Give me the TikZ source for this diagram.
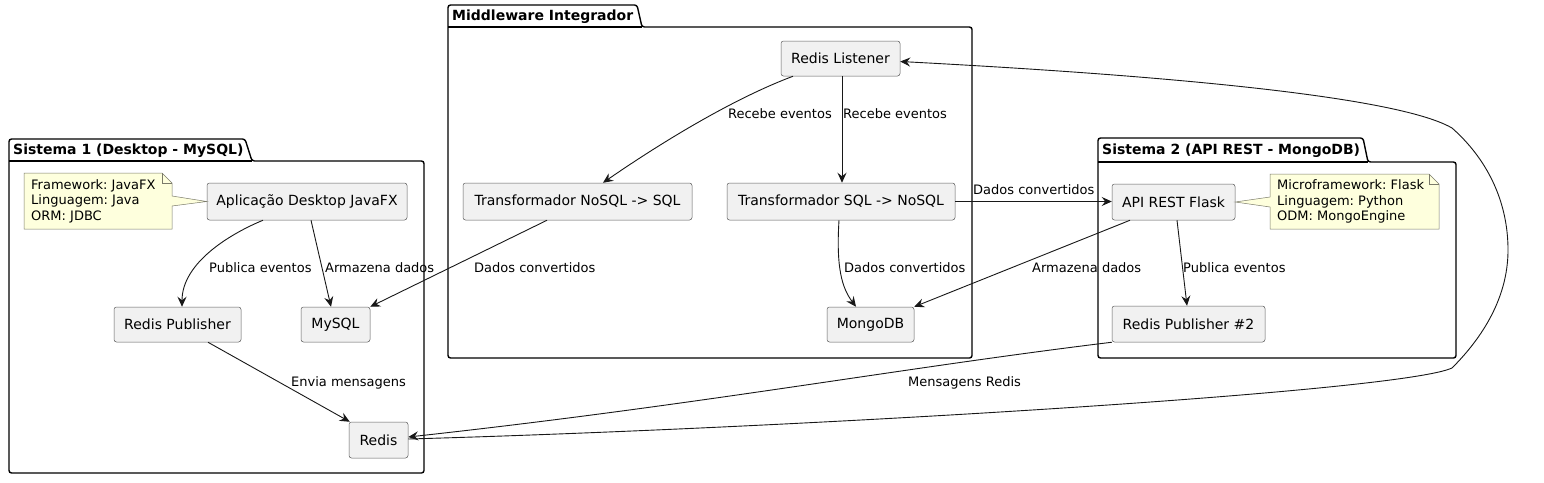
\documentclass[tikz,border=0pt]{standalone}
\usepackage{fontspec}
\setmainfont{DejaVu Sans}
\frenchspacing
\usetikzlibrary{arrows.meta,calc}
\definecolor{nodefill}{HTML}{F1F1F1}
\definecolor{nodeline}{HTML}{5E5E5E}
\definecolor{notefill}{HTML}{FEFFDD}
\definecolor{notedge}{HTML}{7A7A6A}
\definecolor{ink}{HTML}{181818}
\begin{document}
\begin{tikzpicture}[x=1pt,y=-1pt,
  box/.style={draw=nodeline, fill=nodefill, rounded corners=2.5pt, line width=0.5pt,
    inner sep=0pt, font=\fontsize{14}{16}\selectfont, text=black},
  lbl/.style={font=\fontsize{13}{15}\selectfont, inner sep=0pt, text=black},
  notetxt/.style={font=\fontsize{13}{15.5}\selectfont, inner sep=0pt, align=left, anchor=west, text=black},
  noteshape/.style={draw=notedge, fill=notefill, line width=0.5pt},
  conn/.style={draw=ink, line width=0.9pt, -{Stealth[length=10pt,width=9pt,inset=3.5pt]}},
  pkg/.style={draw=black, line width=1.4pt, rounded corners=2.5pt},
  pkgtitle/.style={font=\bfseries\fontsize{14}{16}\selectfont, inner sep=0pt, anchor=base west, text=black}]
\useasboundingbox (0,0) rectangle (1544,482);
\fill[white] (0,0) rectangle (1544,482);

% ---------- packages ----------
\draw[pkg] (9,139) -- (245,139) -- (252,161) -- (424,161) -- (424,473) -- (9,473) -- cycle;
\draw[pkg, rounded corners=0pt] (9,161) -- (252,161);
\node[pkgtitle] (p1t) at (13,154) {Sistema 1 (Desktop - MySQL)};

\draw[pkg] (448,5) -- (637,5) -- (642,27) -- (972,27) -- (972,358) -- (448,358) -- cycle;
\draw[pkg, rounded corners=0pt] (448,27) -- (642,27);
\node[pkgtitle] (p2t) at (452,20) {Middleware Integrador};

\draw[pkg] (1098,138) -- (1363,138) -- (1368,162) -- (1456,162) -- (1456,358) -- (1098,358) -- cycle;
\draw[pkg, rounded corners=0pt] (1098,162) -- (1368,162);
\node[pkgtitle] (p3t) at (1102,154) {Sistema 2 (API REST - MongoDB)};

% ---------- nodes ----------
\node[box, minimum width=200pt, minimum height=37pt] (app) at (307,201.5) {Aplicação Desktop JavaFX};
\node[box, minimum width=127pt, minimum height=35pt] (pub1) at (177.5,324.5) {Redis Publisher};
\node[box, minimum width=69pt, minimum height=35pt] (mysql) at (335.5,324.5) {MySQL};
\node[box, minimum width=59pt, minimum height=36pt] (redis) at (378.5,440) {Redis};

\node[box, minimum width=119pt, minimum height=35pt] (listener) at (840.5,58.5) {Redis Listener};
\node[box, minimum width=229pt, minimum height=37pt] (t1) at (577.5,201.5) {Transformador NoSQL -> SQL};
\node[box, minimum width=228pt, minimum height=37pt] (t2) at (841,201.5) {Transformador SQL -> NoSQL};
\node[box, minimum width=87pt, minimum height=35pt] (mongo) at (870.5,324.5) {MongoDB};

\node[box, minimum width=123pt, minimum height=36pt] (api) at (1173.5,202) {API REST Flask};
\node[box, minimum width=153pt, minimum height=36pt] (pub2) at (1188.5,324) {Redis Publisher \#2};

% ---------- notes ----------
\draw[noteshape] (24,173) -- (162,173) -- (172,183) -- (172,196) -- (app.west) -- (172,206) -- (172,229) -- (24,229) -- cycle;
\draw[noteshape, fill=none] (162,173) -- (162,183) -- (172,183);
\node[notetxt] (note1) at (31,201) {Framework: JavaFX\\Linguagem: Java\\ORM: JDBC};

\draw[noteshape] (1270,174) -- (1429,174) -- (1439,184) -- (1439,229) -- (1270,229) -- (1270,207) -- (api.east) -- (1270,197) -- cycle;
\draw[noteshape, fill=none] (1429,174) -- (1429,184) -- (1439,184);
\node[notetxt] (note2) at (1277,201.5) {Microframework: Flask\\Linguagem: Python\\ODM: MongoEngine};

% ---------- connectors ----------
\draw[conn] ([xshift=-44pt]app.south) .. controls (232,233) and (182,262) .. ([xshift=4.5pt]pub1.north);
\node[lbl, anchor=west] (l1) at (209,268) {Publica eventos};

\draw[conn] ([xshift=4pt]app.south) -- ([xshift=-4.5pt]mysql.north);
\node[lbl, anchor=west] (l2) at (325,268) {Armazena dados};

\draw[conn] ([xshift=30.5pt]pub1.south) -- ([xshift=1pt]redis.north west);
\node[lbl, anchor=west] (l3) at (291,383) {Envia mensagens};

\draw[conn] ([xshift=-47.5pt]listener.south) .. controls (735,98) and (665,140) .. ([xshift=25.5pt]t1.north);
\node[lbl, anchor=east] (l4) at (832,114) {Recebe eventos};

\draw[conn] ([xshift=1.5pt]listener.south) -- ([xshift=1pt]t2.north);
\node[lbl, anchor=west] (l5) at (843,114) {Recebe eventos};

\draw[conn] ([xshift=-30.5pt]t1.south) -- (mysql.north east);
\node[lbl, anchor=west] (l6) at (474,268) {Dados convertidos};

\draw[conn] ([xshift=-2pt]t2.south) .. controls (836,268) and (842,288) .. ([xshift=-14.5pt]mongo.north);
\node[lbl, anchor=west] (l7) at (844,268) {Dados convertidos};

\draw[conn] (t2.east) -- (api.west |- t2.east);
\node[lbl, anchor=west] (l8) at (973,190) {Dados convertidos};

\draw[conn] ([xshift=-43.5pt]api.south) -- (mongo.north east);
\node[lbl, anchor=west] (l9) at (1032,268) {Armazena dados};

\draw[conn] ([xshift=3.5pt]api.south) -- ([xshift=-1.5pt]pub2.north);
\node[lbl, anchor=west] (l10) at (1183,268) {Publica eventos};

\draw[conn] (pub2.south west) .. controls (900,368) and (700,405) .. ([yshift=3pt]redis.east);
\node[lbl, anchor=west] (l11) at (908,383) {Mensagens Redis};

\coordinate (c1) at (1452,368);
\coordinate (c2) at (1508,250);
\coordinate (c3) at (1452,128);
\draw[conn] ([yshift=1pt]redis.east) .. controls (800,428) and (1400,392) .. (c1)
  .. controls (1488,332) and (1508,292) .. (c2)
  .. controls (1508,200) and (1486,158) .. (c3)
  .. controls (1390,92) and (1100,72) .. ([yshift=-3pt]listener.east);
\end{tikzpicture}
\end{document}
